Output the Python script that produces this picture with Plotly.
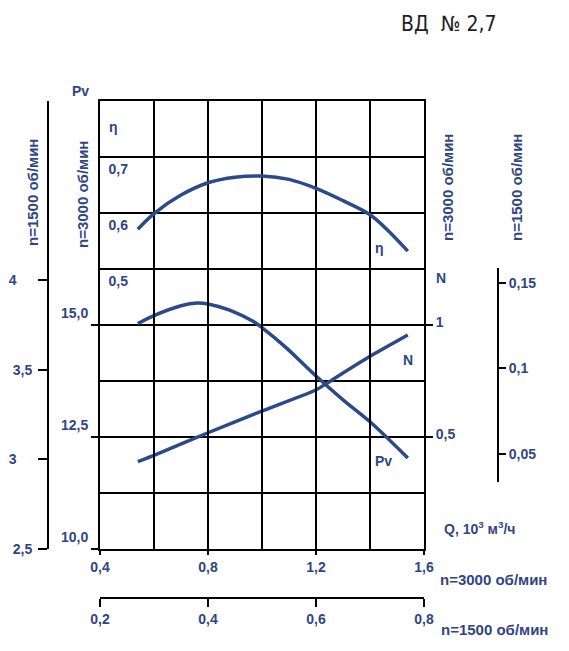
import plotly.graph_objects as go

# fan ВД № 2,7 characteristic, n=3000 rpm (Q in 10^3 m3/h)
q_eta = [0.54, 0.60, 0.70, 0.80, 0.90, 1.00, 1.10, 1.20, 1.30, 1.40, 1.46, 1.54]
eta = [0.571, 0.599, 0.632, 0.654, 0.664, 0.666, 0.660, 0.644, 0.622, 0.597, 0.572, 0.532]

q_pv = [0.54, 0.60, 0.70, 0.76, 0.80, 0.88, 0.97, 1.00, 1.09, 1.20, 1.30, 1.40, 1.54]
pv = [15.03, 15.21, 15.43, 15.49, 15.47, 15.33, 15.07, 14.94, 14.49, 13.86, 13.33, 12.84, 12.03]

q_n = [0.54, 0.60, 0.80, 1.00, 1.20, 1.24, 1.40, 1.54]
n_power = [0.390, 0.418, 0.519, 0.616, 0.710, 0.740, 0.860, 0.955]

x_ticks = [0.4, 0.8, 1.2, 1.6]
x_ticks_1500 = [0.2, 0.4, 0.6, 0.8]
pv_ticks = [10, 12.5, 15]
pv_ticks_1500 = [2.5, 3, 3.5, 4]
eta_ticks = [0.5, 0.6, 0.7]
n_ticks = [0.5, 1]
n_ticks_1500 = [0.05, 0.1, 0.15]


def lbl(v, dec=None):
    s = f"{v:.{dec}f}" if dec is not None else f"{v:g}"
    return s.replace(".", ",")


W, H = 569, 651
def px(x): return x / W
def py(y): return 1 - y / H

LINE = "#2c4a8a"
TXT = "#2f4683"
FONT = "Liberation Sans, Arial, sans-serif"
tickfont = dict(family=FONT, size=14, color=TXT, weight="bold")

fig = go.Figure()
fig.add_trace(go.Scatter(x=q_eta, y=eta, yaxis="y2", mode="lines",
                         line=dict(color=LINE, width=3.5, shape="spline")))
fig.add_trace(go.Scatter(x=q_pv, y=pv, mode="lines",
                         line=dict(color=LINE, width=3.5, shape="spline")))
fig.add_trace(go.Scatter(x=q_n, y=n_power, yaxis="y3", mode="lines",
                         line=dict(color=LINE, width=3.5, shape="spline", smoothing=0.4)))
# empty traces so the extra scales get drawn
fig.add_trace(go.Scatter(x=[None], y=[None], yaxis="y4", hoverinfo="skip"))
fig.add_trace(go.Scatter(x=[None], y=[None], yaxis="y5", hoverinfo="skip"))
fig.add_trace(go.Scatter(x=[None], y=[None], xaxis="x2", hoverinfo="skip"))

xdom = [px(100), px(424)]
ydom = [py(549), py(101)]
grid = dict(showgrid=True, gridcolor="black", gridwidth=2)
base = dict(automargin=False, zeroline=False, tickfont=tickfont,
            tickwidth=2, tickcolor="black")

fig.update_layout(
    width=W, height=H, showlegend=False,
    margin=dict(l=0, r=0, t=0, b=0, autoexpand=False),
    plot_bgcolor="rgba(0,0,0,0)", paper_bgcolor="white",
    xaxis=dict(domain=xdom, range=[0.4, 1.6], tickvals=x_ticks,
               ticktext=[lbl(v) for v in x_ticks], ticks="outside", ticklen=4,
               showline=True, mirror=True, linecolor="black", linewidth=2,
               minor=dict(dtick=0.2, tick0=0.4, **grid), **grid, **base),
    xaxis2=dict(domain=xdom, range=[0.2, 0.8], overlaying="x", anchor="free",
                position=py(598), side="bottom", tickvals=x_ticks_1500,
                ticktext=[lbl(v) for v in x_ticks_1500], ticks="outside", ticklen=8,
                showgrid=False, showline=True, linecolor="black", linewidth=2, **base),
    yaxis=dict(domain=ydom, range=[10, 20], tickvals=pv_ticks,
               ticktext=[lbl(v, 1) for v in pv_ticks], ticks="outside", ticklen=7,
               ticklabelshift=-12, showline=True, mirror=True, linecolor="black",
               linewidth=2, minor=dict(dtick=1.25, tick0=10, **grid), **grid, **base),
    # eta labels sit inside the grid: pulled in with a negative standoff
    yaxis2=dict(range=[0, 0.8], overlaying="y", side="left", tickvals=eta_ticks,
                ticktext=[lbl(v) for v in eta_ticks], ticks="",
                ticklabelshift=12, ticklabelstandoff=-29,
                showgrid=False, showline=False, **base),
    yaxis3=dict(range=[0, 2], overlaying="y", side="right", tickvals=n_ticks,
                ticktext=[lbl(v) for v in n_ticks], ticks="outside", ticklen=8,
                ticklabelshift=-3, showgrid=False, showline=False, **base),
    yaxis4=dict(range=[2.5, 5], overlaying="y", anchor="free", position=px(48),
                side="left", tickvals=pv_ticks_1500,
                ticktext=[lbl(v) if v % 1 else lbl(v) + "\u00a0" * 4 for v in pv_ticks_1500],
                ticks="outside", ticklen=9, ticklabelstandoff=3, showgrid=False,
                showline=True, linecolor="black", linewidth=2, **base),
    yaxis5=dict(domain=[py(482), py(268)], range=[0.0335, 0.1587], anchor="free",
                position=px(498), side="right", tickvals=n_ticks_1500,
                ticktext=[lbl(v) for v in n_ticks_1500], ticks="outside", ticklen=7,
                showgrid=False, showline=True, linecolor="black", linewidth=2, **base),
)

ann = dict(xref="paper", yref="paper", showarrow=False, xanchor="center",
           yanchor="middle", font=dict(family=FONT, size=14, color=TXT, weight="bold"))
texts = [
    ("Pv", 80, 91, 0), ("η", 113, 127, 0), ("N", 441, 278, 0),
    ("η", 379, 248, 0), ("N", 408, 360, 0), ("Pv", 383, 461, 0),
]
for t, x, y, a in texts:
    fig.add_annotation(text=t, x=px(x), y=py(y), textangle=a, **ann)

speed_labels = [
    ("n=1500 об/мин", 33, 193, -90), ("n=3000 об/мин", 83, 195, -90),
    ("n=3000 об/мин", 448, 188, -90), ("n=1500 об/мин", 517, 188, -90),
    ("n=3000 об/мин", 493, 579, 0), ("n=1500 об/мин", 494, 629, 0),
]
for t, x, y, a in speed_labels:
    fig.add_annotation(text=t, x=px(x), y=py(y), textangle=a,
                       **{**ann, "font": {**ann["font"], "size": 15}})

fig.add_annotation(text="Q, 10<sup>3</sup> м<sup>3</sup>/ч", x=px(479), y=py(528),
                   xref="paper", yref="paper", showarrow=False, xanchor="center",
                   yanchor="middle",
                   font=dict(family=FONT, size=14, color=TXT, weight="bold"))
fig.add_annotation(text="ВД  № 2,7", x=px(448), y=py(24), xref="paper", yref="paper",
                   showarrow=False, xanchor="center", yanchor="middle",
                   font=dict(family="DejaVu Sans Condensed, Roboto, sans-serif",
                             size=21, color="#1e1e1e"))

fig.write_html("out.html", config={"displayModeBar": False},
               post_script="document.body.style.margin='0';")
